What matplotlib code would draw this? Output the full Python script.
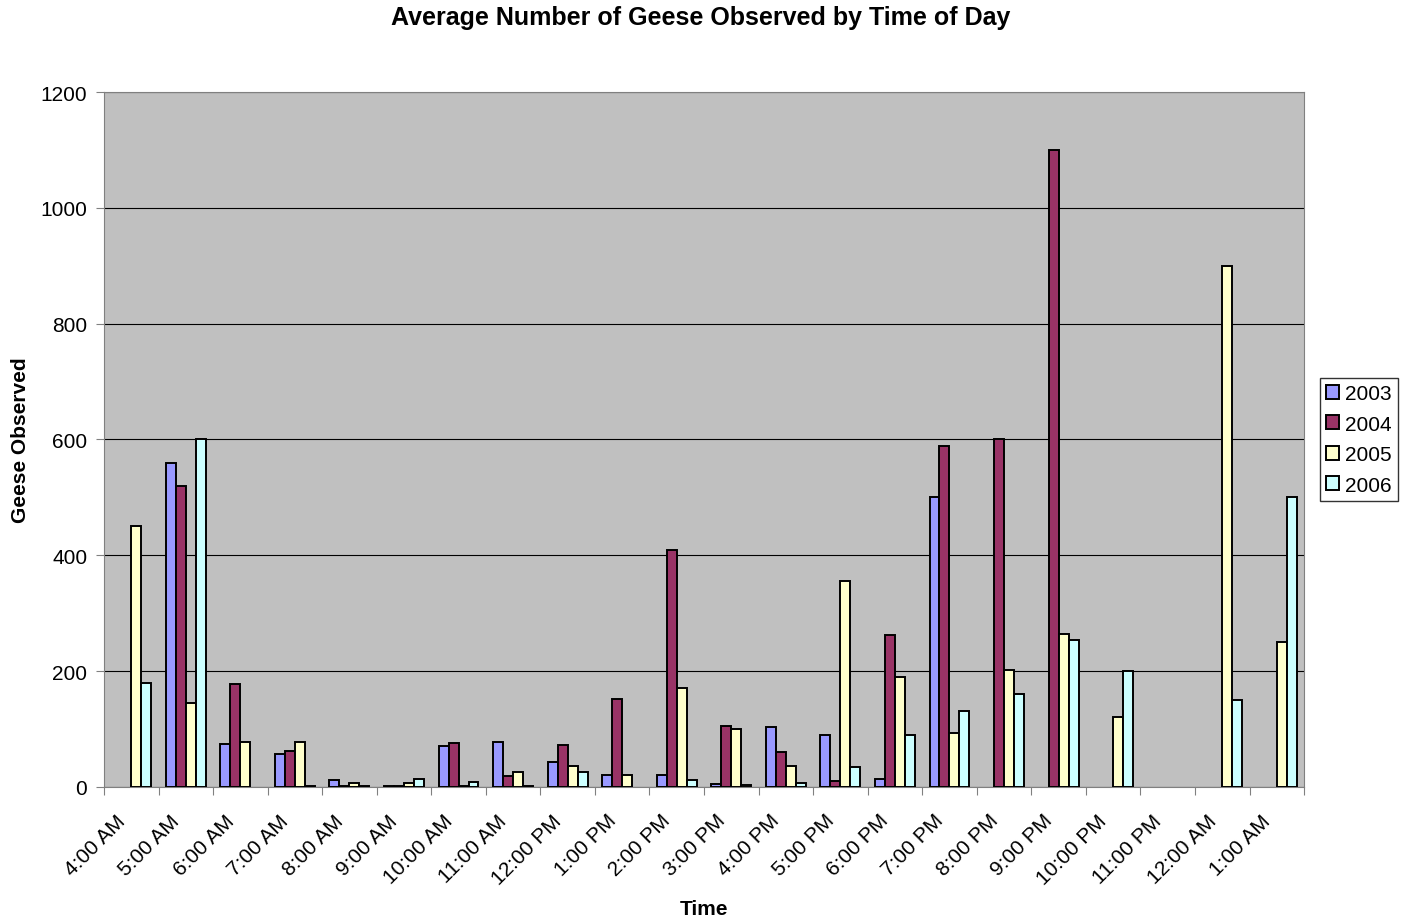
import numpy as np
import matplotlib.pyplot as plt

plt.rcParams['font.family'] = ['Liberation Sans', 'DejaVu Sans']

times = ['4:00 AM', '5:00 AM', '6:00 AM', '7:00 AM', '8:00 AM', '9:00 AM',
         '10:00 AM', '11:00 AM', '12:00 PM', '1:00 PM', '2:00 PM', '3:00 PM',
         '4:00 PM', '5:00 PM', '6:00 PM', '7:00 PM', '8:00 PM', '9:00 PM',
         '10:00 PM', '11:00 PM', '12:00 AM', '1:00 AM']
y2003 = [0, 560, 75, 57, 12, 2, 71, 77, 43, 20, 20, 5, 104, 89, 13, 500, 0, 0, 0, 0, 0, 0]
y2004 = [0, 520, 178, 62, 2, 1, 76, 19, 72, 152, 410, 106, 61, 10, 262, 588, 600, 1100, 0, 0, 0, 0]
y2005 = [450, 145, 77, 77, 7, 7, 1, 26, 37, 20, 171, 100, 36, 355, 190, 93, 202, 265, 120, 0, 900, 250]
y2006 = [180, 600, 0, 2, 2, 13, 9, 2, 26, 0, 12, 3, 7, 35, 90, 132, 161, 253, 200, 0, 150, 500]
years = ['2003', '2004', '2005', '2006']
colors = ['#9999FF', '#993366', '#FFFFCC', '#CCFFFF']

fig = plt.figure(figsize=(14.01, 9.2), dpi=100)
ax = fig.add_axes([0.0742, 0.1435, 0.8566, 0.7554])
ax.set_facecolor('#C0C0C0')

x = np.arange(len(times))
w = 0.183
series = [y2003, y2004, y2005, y2006]
for i, (vals, c, lab) in enumerate(zip(series, colors, years)):
    v = np.array(vals, dtype=float)
    v[v == 0] = np.nan  # empty cells draw nothing
    ax.bar(x + (i - 1.5) * w, v, width=w, color=c, edgecolor='black',
           linewidth=1.4, label=lab, zorder=3)

ax.set_xlim(-0.5, len(times) - 0.5)
ax.set_ylim(0, 1200)
ax.set_yticks(range(0, 1201, 200))
ax.yaxis.grid(True, color='black', linewidth=0.8, zorder=1)
ax.tick_params(axis='y', labelsize=15, direction='out', length=6, color='#808080', pad=6)

ax.set_xticks(np.arange(-0.5, len(times), 1))
ax.set_xticklabels([])
ax.tick_params(axis='x', which='major', direction='out', length=6, color='#808080')
ax.set_xticks(x - 0.29, minor=True)
ax.set_xticklabels(times, minor=True, rotation=45, ha='right',
                   rotation_mode='anchor', fontsize=15)
ax.tick_params(axis='x', which='minor', length=0, pad=17)

for s in ax.spines.values():
    s.set_color('#808080')

fig.suptitle('Average Number of Geese Observed by Time of Day',
             fontsize=18, fontweight='bold', y=0.993)
ax.set_xlabel('Time', fontsize=15, fontweight='bold')
ax.xaxis.set_label_coords(0.5, -0.161)
ax.set_ylabel('Geese Observed', fontsize=15, fontweight='bold')
ax.yaxis.set_label_coords(-0.062, 0.5)

leg = ax.legend(loc='center left', bbox_to_anchor=(1.013, 0.5), fontsize=15,
                frameon=True, fancybox=False, edgecolor='black',
                handlelength=0.65, handleheight=0.65, handletextpad=0.25,
                borderpad=0.3, labelspacing=0.55, borderaxespad=0)
leg.get_frame().set_linewidth(1)

fig.savefig('out.png', dpi=100)
